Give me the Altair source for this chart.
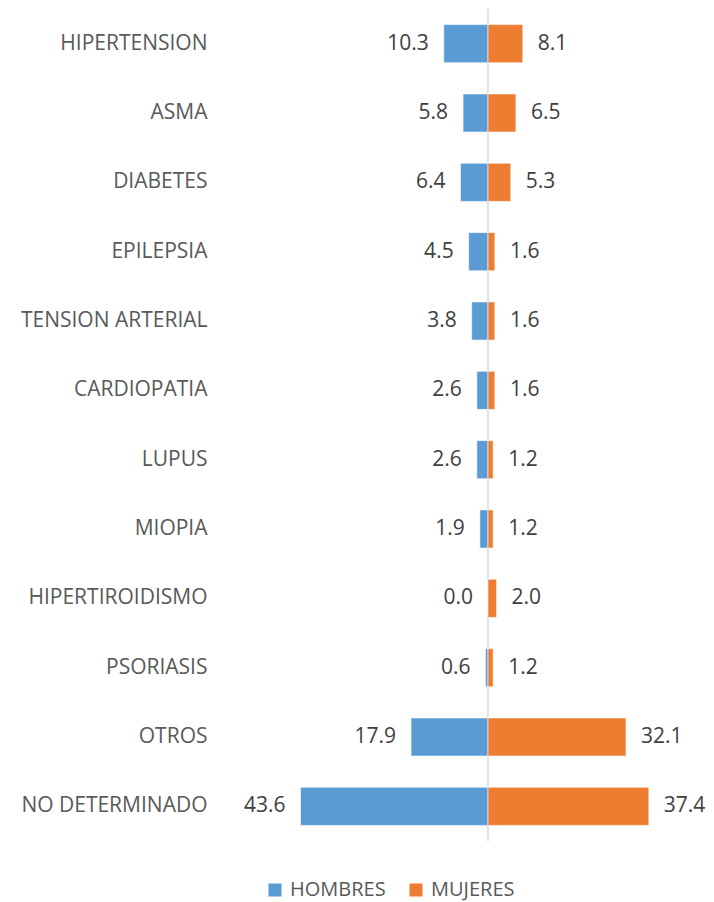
import altair as alt
import pandas as pd

categorias = ["HIPERTENSION", "ASMA", "DIABETES", "EPILEPSIA", "TENSION ARTERIAL",
              "CARDIOPATIA", "LUPUS", "MIOPIA", "HIPERTIROIDISMO", "PSORIASIS",
              "OTROS", "NO DETERMINADO"]
hombres = [10.3, 5.8, 6.4, 4.5, 3.8, 2.6, 2.6, 1.9, 0.0, 0.6, 17.9, 43.6]
mujeres = [8.1, 6.5, 5.3, 1.6, 1.6, 1.6, 1.2, 1.2, 2.0, 1.2, 32.1, 37.4]
series = ["HOMBRES", "MUJERES"]
colores = ["#5B9BD5", "#ED7D31"]

rows = []
for c, h, m in zip(categorias, hombres, mujeres):
    rows.append({"cat": c, "sexo": "HOMBRES", "valor": h, "pos": -h})
    rows.append({"cat": c, "sexo": "MUJERES", "valor": m, "pos": m})
df = pd.DataFrame(rows)

FONT = "Open Sans"
x_scale = alt.Scale(domain=[-60, 50], nice=False, zero=False)
y_scale = alt.Scale(domain=categorias, paddingInner=0.45, paddingOuter=0.225)

base = alt.Chart(df)

bars = base.mark_bar(stroke="white", strokeWidth=0.6).encode(
    x=alt.X("pos:Q", scale=x_scale, axis=None),
    x2=alt.datum(0),
    y=alt.Y("cat:N", scale=y_scale, sort=categorias, title=None,
            axis=alt.Axis(domain=False, ticks=False, labelPadding=23,
                          labelFont=FONT, labelFontSize=21, labelColor="#595959",
                          labelLimit=300)),
    color=alt.Color("sexo:N", scale=alt.Scale(domain=series, range=colores),
                    legend=alt.Legend(orient="none", legendX=35, legendY=871,
                                      direction="horizontal", title=None,
                                      symbolType="square", symbolSize=170,
                                      symbolStrokeWidth=0, labelFont=FONT,
                                      labelFontSize=20, labelColor="#595959",
                                      columnPadding=20, labelOffset=5)),
)

rule = alt.Chart(pd.DataFrame({"z": [0]})).mark_rule(color="#d9d9d9", strokeWidth=1.5).encode(
    x=alt.X("z:Q", scale=x_scale, axis=None)
)

text_h = base.transform_filter(alt.datum.sexo == "HOMBRES").mark_text(
    align="right", baseline="middle", dx=-15, font=FONT, fontSize=21, color="#404040"
).encode(
    x=alt.X("pos:Q", scale=x_scale, axis=None),
    y=alt.Y("cat:N", scale=y_scale, sort=categorias),
    text=alt.Text("valor:Q", format=".1f"),
)

text_m = base.transform_filter(alt.datum.sexo == "MUJERES").mark_text(
    align="left", baseline="middle", dx=15, font=FONT, fontSize=21, color="#404040"
).encode(
    x=alt.X("pos:Q", scale=x_scale, axis=None),
    y=alt.Y("cat:N", scale=y_scale, sort=categorias),
    text=alt.Text("valor:Q", format=".1f"),
)

chart = alt.layer(rule, bars, text_h, text_m).properties(
    width=473, height=832,
    autosize=alt.AutoSizeParams(type="none"),
    padding={"left": 222, "top": 1, "right": 3, "bottom": 64},
).configure_view(stroke=None)

chart.save("out.html", embed_options={"renderer": "svg", "actions": False})
